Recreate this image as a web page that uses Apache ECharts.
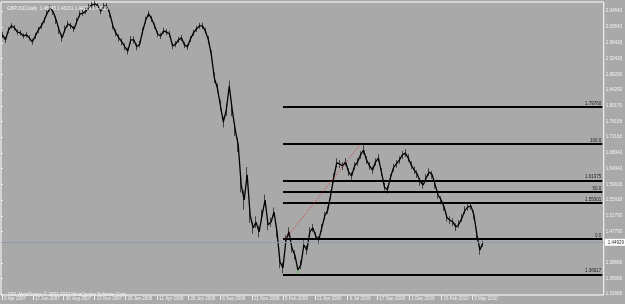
<!DOCTYPE html>
<html><head><meta charset="utf-8">
<script src="https://cdn.jsdelivr.net/npm/echarts@6/dist/echarts.min.js"></script>
<style>html,body{margin:0;padding:0;background:#a9a9a9;}#c{width:625px;height:304px;}</style>
</head><body><div id="c"></div>
<script>
// per-bin (~one week) low, high and close prices
const lows = [1.977,1.964,1.989,2.001,1.996,1.985,1.983,1.975,1.978,1.970,1.959,1.974,1.989,2.000,2.015,2.033,2.046,2.036,2.013,1.987,1.967,1.991,2.005,2.000,1.992,2.013,2.031,2.033,2.038,2.049,2.054,2.057,2.051,2.038,2.051,2.051,2.030,1.999,1.981,1.968,1.958,1.945,1.934,1.962,1.963,1.945,1.952,1.986,2.014,2.031,2.018,2.000,1.979,1.974,1.987,1.984,1.979,1.948,1.953,1.964,1.969,1.951,1.946,1.966,1.982,1.992,2.000,2.000,1.987,1.962,1.921,1.860,1.836,1.790,1.746,1.775,1.839,1.775,1.724,1.683,1.578,1.534,1.604,1.500,1.472,1.487,1.463,1.506,1.545,1.481,1.490,1.516,1.463,1.383,1.370,1.444,1.465,1.423,1.405,1.366,1.380,1.431,1.418,1.465,1.477,1.456,1.446,1.477,1.508,1.523,1.560,1.604,1.643,1.642,1.637,1.647,1.621,1.611,1.637,1.647,1.665,1.676,1.652,1.637,1.626,1.647,1.657,1.621,1.583,1.575,1.606,1.632,1.642,1.652,1.665,1.670,1.657,1.639,1.626,1.616,1.596,1.588,1.606,1.621,1.614,1.588,1.562,1.549,1.531,1.503,1.497,1.492,1.479,1.487,1.503,1.523,1.531,1.534,1.508,1.455,1.418,1.438];
const highs = [1.993,1.980,2.005,2.015,2.010,1.999,1.997,1.989,1.992,1.984,1.975,1.990,2.005,2.016,2.031,2.049,2.062,2.052,2.033,2.007,1.987,2.009,2.021,2.016,2.008,2.029,2.047,2.049,2.054,2.065,2.070,2.073,2.067,2.054,2.067,2.067,2.048,2.017,1.999,1.986,1.976,1.963,1.952,1.982,1.981,1.963,1.970,2.004,2.032,2.047,2.034,2.016,1.995,1.990,2.003,2.000,1.995,1.964,1.969,1.980,1.985,1.967,1.962,1.982,1.998,2.008,2.016,2.016,2.003,1.982,1.945,1.888,1.860,1.818,1.774,1.807,1.867,1.807,1.756,1.719,1.618,1.584,1.644,1.540,1.502,1.517,1.491,1.534,1.573,1.509,1.514,1.540,1.491,1.415,1.398,1.468,1.489,1.447,1.429,1.392,1.404,1.455,1.442,1.489,1.497,1.476,1.466,1.497,1.528,1.543,1.584,1.628,1.667,1.662,1.657,1.667,1.641,1.631,1.657,1.667,1.685,1.700,1.672,1.657,1.646,1.667,1.677,1.641,1.603,1.595,1.626,1.652,1.662,1.672,1.685,1.690,1.677,1.659,1.646,1.636,1.616,1.608,1.626,1.641,1.634,1.608,1.582,1.569,1.551,1.523,1.517,1.512,1.499,1.507,1.523,1.543,1.551,1.554,1.532,1.483,1.442,1.454];
const closes = [1.985,1.972,1.997,2.008,2.003,1.992,1.990,1.982,1.985,1.977,1.967,1.982,1.997,2.008,2.023,2.041,2.054,2.044,2.023,1.997,1.977,2.000,2.013,2.008,2.000,2.021,2.039,2.041,2.046,2.057,2.062,2.065,2.059,2.046,2.059,2.059,2.039,2.008,1.990,1.977,1.967,1.954,1.943,1.972,1.972,1.954,1.961,1.995,2.023,2.039,2.026,2.008,1.987,1.982,1.995,1.992,1.987,1.956,1.961,1.972,1.977,1.959,1.954,1.974,1.990,2.000,2.008,2.008,1.995,1.972,1.933,1.874,1.848,1.804,1.760,1.791,1.853,1.791,1.740,1.701,1.598,1.559,1.624,1.520,1.487,1.502,1.477,1.520,1.559,1.495,1.502,1.528,1.477,1.399,1.384,1.456,1.477,1.435,1.417,1.379,1.392,1.443,1.430,1.477,1.487,1.466,1.456,1.487,1.518,1.533,1.572,1.616,1.655,1.652,1.647,1.657,1.631,1.621,1.647,1.657,1.675,1.688,1.662,1.647,1.636,1.657,1.667,1.631,1.593,1.585,1.616,1.642,1.652,1.662,1.675,1.680,1.667,1.649,1.636,1.626,1.606,1.598,1.616,1.631,1.624,1.598,1.572,1.559,1.541,1.513,1.507,1.502,1.489,1.497,1.513,1.533,1.541,1.544,1.520,1.469,1.430,1.449];
const greenBin = 99;
const totalBins = 202;
const yTicks = [2.04643,2.00543,1.96418,1.92418,1.88293,1.84293,1.80170,1.76168,1.72168,1.68043,1.64043,1.59918,1.55918,1.51793,1.47793,1.39668,1.35668,1.31668];
const dateLabels = ['3 Apr 2007','17 Jun 2007','30 Aug 2007','13 Nov 2007','28 Jan 2008','11 Apr 2008','26 Jun 2008','8 Sep 2008','21 Nov 2008','5 Feb 2009','21 Apr 2009','6 Jul 2009','17 Sep 2009','1 Dec 2009','16 Feb 2010','3 May 2010'];
const dateTickPos = [0.3,10.7,21.0,31.4,41.7,52.4,62.8,73.5,84.1,94.5,105.2,116.2,126.2,136.9,147.6,157.9];
const fibLevels = [1.7989,1.7035,1.6088,1.5797,1.5513,1.4585,1.3665];
const fibLabels = ['1.79760','100.0','1.61375','50.0','1.55301','0.0','1.36617'];
const fibStartBin = 94;
const trendFrom = [94.5, 1.4600];
const trendTo = [119.5, 1.7035];
const lastPrice = 1.44929;
const ohlcText = 'GBPUSD,Daily  1.46645 1.46101 1.44229 1.44929';
const copyright = 'ODL MetaTrader, © 2001-2010 MetaQuotes Software Corp.';

const cats = [];
for (let i = 0; i < totalBins; i++) cats.push(i);
const candles = lows.map((l, i) => {
  const d = {value: [l, highs[i], l, highs[i]]};
  if (i === greenBin) d.itemStyle = {color: '#22c022', borderColor: '#22c022'};
  return d;
});
const font = 'Liberation Sans';
const fibMarks = fibLevels.map((v, i) => [
  {coord: [fibStartBin, v], lineStyle: {color: '#000', width: 2, type: 'solid'},
   label: {show: true, formatter: fibLabels[i], position: 'insideEndTop', fontSize: 4.5, color: '#222', fontFamily: font, distance: 1}},
  {coord: [totalBins - 1, v]}
]);
const chart = echarts.init(document.getElementById('c'), null, {renderer: 'canvas'});
chart.setOption({
  animation: false,
  backgroundColor: '#a9a9a9',
  title: [
    {text: ohlcText, left: 2, top: 1, textStyle: {fontSize: 4.5, color: '#f4f4f4', fontWeight: 'normal', fontFamily: font}},
    {text: copyright, left: 3, top: 287, textStyle: {fontSize: 4.5, color: '#f4f4f4', fontWeight: 'normal', fontFamily: font}}
  ],
  grid: {left: 1, right: 19, top: 2, bottom: 9, show: true, borderColor: '#ffffff', borderWidth: 1, backgroundColor: 'transparent'},
  xAxis: [
    {type: 'category', data: cats, boundaryGap: true, show: false},
    {type: 'value', min: 0, max: totalBins, position: 'bottom', splitLine: {show: false},
     axisLine: {show: false},
     axisTick: {show: true, length: 5, lineStyle: {color: '#eeeeee'}, customValues: dateTickPos},
     axisLabel: {customValues: dateTickPos, fontSize: 4.5, color: '#f2f2f2', fontFamily: font, align: 'left', margin: 1, padding: [0,0,0,2],
       formatter: (v) => { const k = dateTickPos.findIndex(p => Math.abs(p - v) < 0.01); return k >= 0 ? dateLabels[k] : ''; }}}
  ],
  yAxis: {type: 'value', position: 'right', min: 1.3141, max: 2.0696, scale: true,
    splitLine: {show: false}, axisLine: {show: false},
    axisTick: {show: true, length: 2, lineStyle: {color: '#eeeeee'}, customValues: yTicks},
    axisLabel: {customValues: yTicks, fontSize: 4.5, color: '#f2f2f2', fontFamily: font, margin: 2, formatter: v => v.toFixed(5)}},
  series: [{
    type: 'line', xAxisIndex: 0, data: closes, symbol: 'none', clip: true, silent: true,
    lineStyle: {color: '#000', width: 1.3}
  }, {
    type: 'candlestick', xAxisIndex: 0, data: candles, barWidth: 1, clip: true,
    itemStyle: {color: '#000', color0: '#000', borderColor: '#000', borderColor0: '#000', borderWidth: 0.6},
    markLine: {
      silent: true, symbol: 'none', animation: false,
      data: [
        ...fibMarks,
        [{coord: trendFrom, lineStyle: {color: '#e02020', width: 1, type: [1, 2]}, label: {show: false}}, {coord: trendTo}],
        {yAxis: lastPrice, lineStyle: {color: '#8e9cae', width: 1, type: 'solid'},
         label: {show: true, position: 'end', formatter: lastPrice.toFixed(5), fontSize: 4.5, color: '#333', backgroundColor: '#ffffff', padding: [1, 3, 1, 3], fontFamily: font, distance: 1}}
      ]
    }
  }]
});
</script></body></html>
